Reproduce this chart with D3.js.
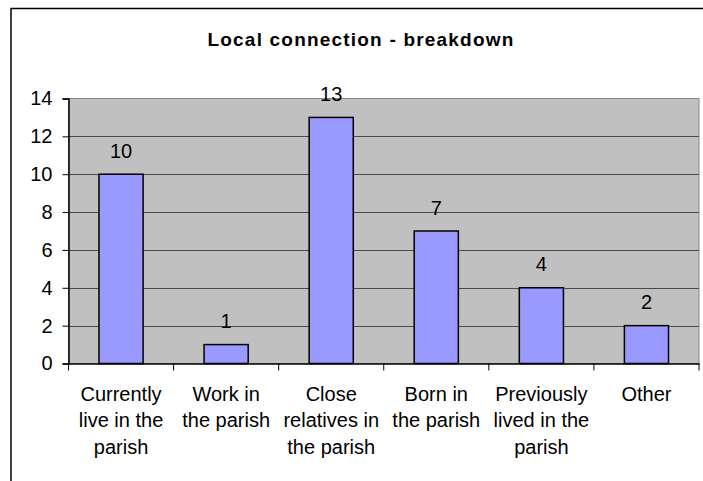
<!DOCTYPE html>
<html>
<head>
<meta charset="utf-8">
<script src="https://cdn.jsdelivr.net/npm/d3@7"></script>
<style>
  body { margin: 0; background: #fff; }
  text { font-family: Arial, "Liberation Sans", sans-serif; fill: #000; }
</style>
</head>
<body>
<div id="chart"></div>
<script>
// data
var categories = [
  ["Currently", "live in the", "parish"],
  ["Work in", "the parish"],
  ["Close", "relatives in", "the parish"],
  ["Born in", "the parish"],
  ["Previously", "lived in the", "parish"],
  ["Other"]
];
var values = [10, 1, 13, 7, 4, 2];
var yTicks = [0, 2, 4, 6, 8, 10, 12, 14];
var title = "Local connection - breakdown";

var width = 703, height = 481;
var margin = {top: 98.5, right: 4, bottom: 117.5, left: 68.5};
var fontSize = '20px';

var svg = d3.select('#chart').append('svg')
  .attr('width', width).attr('height', height);

// outer chart border (cropped on right/bottom)
svg.append('path')
  .attr('d', 'M11,' + height + ' L11,8.5 L' + width + ',8.5')
  .attr('fill', 'none').attr('stroke', '#000').attr('stroke-width', 1.5);

svg.append('text')
  .attr('x', 361).attr('y', 46)
  .attr('text-anchor', 'middle')
  .style('font-size', '19px').style('font-weight', 'bold')
  .style('letter-spacing', '1.2px')
  .text(title);

var x = d3.scaleBand()
  .domain(d3.range(categories.length))
  .range([margin.left, width - margin.right])
  .padding(0);

var y = d3.scaleLinear()
  .domain([0, 14])
  .range([height - margin.bottom, margin.top]);

var plotW = width - margin.right - margin.left;

// plot area
svg.append('rect')
  .attr('x', margin.left).attr('y', y(14))
  .attr('width', plotW).attr('height', y(0) - y(14))
  .attr('fill', '#c0c0c0').attr('stroke', '#888').attr('stroke-width', 1);

// gridlines
svg.append('g').selectAll('line')
  .data(yTicks.filter(function(d) { return d > 0 && d < 14; }))
  .enter().append('line')
  .attr('x1', margin.left).attr('x2', margin.left + plotW)
  .attr('y1', function(d) { return Math.round(y(d)) + 0.5; })
  .attr('y2', function(d) { return Math.round(y(d)) + 0.5; })
  .attr('stroke', '#4a4a4a').attr('stroke-width', 1);

// bars
var barW = x.bandwidth() * 0.42;
svg.append('g').selectAll('rect')
  .data(values)
  .enter().append('rect')
  .attr('x', function(d, i) { return x(i) + (x.bandwidth() - barW) / 2; })
  .attr('y', function(d) { return y(d); })
  .attr('width', barW)
  .attr('height', function(d) { return y(0) - y(d); })
  .attr('fill', '#9999ff').attr('stroke', '#000').attr('stroke-width', 1.5);

// value labels
svg.append('g').selectAll('text')
  .data(values)
  .enter().append('text')
  .attr('x', function(d, i) { return x(i) + x.bandwidth() / 2; })
  .attr('y', function(d) { return y(d) - 16.5; })
  .attr('text-anchor', 'middle')
  .style('font-size', fontSize)
  .text(function(d) { return d; });

// y axis
var yAxis = svg.append('g')
  .attr('transform', 'translate(' + margin.left + ',0)')
  .call(d3.axisLeft(y).tickValues(yTicks).tickSize(6).tickPadding(10));
yAxis.select('.domain').attr('stroke', '#000').attr('stroke-width', 1.5);
yAxis.selectAll('.tick line').attr('stroke', '#000');
yAxis.selectAll('.tick text')
  .style('font-size', fontSize).style('font-family', 'Arial, "Liberation Sans", sans-serif')
  .attr('fill', '#000');

// x axis
var xAxis = svg.append('g')
  .attr('transform', 'translate(0,' + y(0) + ')')
  .call(d3.axisBottom(x).tickSize(0).tickFormat(''));
xAxis.select('.domain').attr('stroke', '#000').attr('stroke-width', 1.5);
xAxis.selectAll('.tick').remove();

// category ticks on band edges
svg.append('g').selectAll('line')
  .data(d3.range(categories.length + 1))
  .enter().append('line')
  .attr('x1', function(i) { return margin.left + i * x.bandwidth(); })
  .attr('x2', function(i) { return margin.left + i * x.bandwidth(); })
  .attr('y1', y(0)).attr('y2', y(0) + 7)
  .attr('stroke', '#000');

// category labels
var labels = svg.append('g').selectAll('text')
  .data(categories)
  .enter().append('text')
  .attr('text-anchor', 'middle')
  .style('font-size', fontSize)
  .attr('transform', function(d, i) {
    return 'translate(' + (x(i) + x.bandwidth() / 2) + ',' + (y(0) + 37) + ')';
  });
labels.selectAll('tspan')
  .data(function(d) { return d; })
  .enter().append('tspan')
  .attr('x', 0)
  .attr('y', function(d, i) { return i * 26.5; })
  .text(function(d) { return d; });
</script>
</body>
</html>
